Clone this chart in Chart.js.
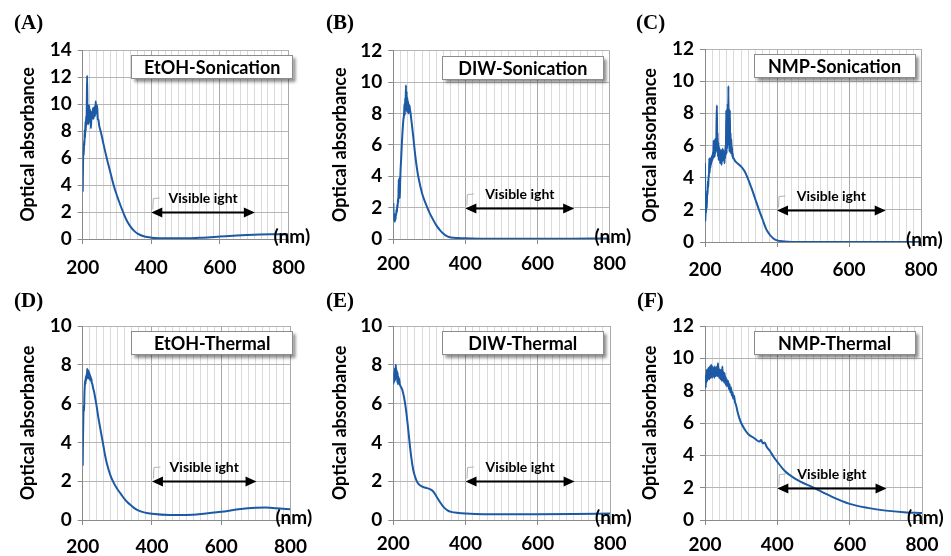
<!DOCTYPE html>
<html>
<head>
<meta charset="utf-8">
<script src="https://cdn.jsdelivr.net/npm/chart.js@4.4.0/dist/chart.umd.min.js"></script>
<style>
  body { margin: 0; background: #fff; }
  #wrap { position: relative; width: 951px; height: 556px; }
  #wrap canvas { position: absolute; }
</style>
</head>
<body>
<div id="wrap">
  <canvas id="cA" width="317" height="278" style="left:0;top:0"></canvas>
  <canvas id="cB" width="317" height="278" style="left:317px;top:0"></canvas>
  <canvas id="cC" width="317" height="278" style="left:634px;top:0"></canvas>
  <canvas id="cD" width="317" height="278" style="left:0;top:278px"></canvas>
  <canvas id="cE" width="317" height="278" style="left:317px;top:278px"></canvas>
  <canvas id="cF" width="317" height="278" style="left:634px;top:278px"></canvas>
</div>
<script>
// ---- data (wavelength nm / optical absorbance) ----
const wlA = [200,201,202,203,204,205,206,207,208,209,
             210,211,212,213,214,215,216,217,218,219,220,
             222,224,226,228,230,232,234,236,238,240,242,244,246,248,250,
             255,260,270,280,290,300,310,320,330,340,350,360,380,400,
             450,500,550,600,650,700,750,800];
const absA = [3.5,5.6,6.8,6.2,7.3,6.9,8.1,7.5,8.7,8.0,
              9.1,8.4,10.2,12.1,8.8,10.0,8.5,9.4,8.6,9.9,8.8,
              9.6,8.2,9.4,8.9,9.7,8.9,9.8,9.1,10.2,9.3,9.9,8.9,8.8,8.4,8.2,
              7.7,7.1,6.0,5.0,4.0,3.2,2.5,1.85,1.3,0.9,0.6,0.4,0.18,0.1,
              0.05,0.05,0.1,0.18,0.26,0.32,0.35,0.34];

const wlB = [200,201,202,203,204,205,206,207,208,209,
             210,211,212,213,214,215,216,217,218,219,220,
             222,224,226,228,230,
             231,232,233,234,235,236,237,238,239,240,241,242,243,244,245,246,
             248,250,255,260,265,270,280,290,300,310,320,330,340,350,360,380,400,
             450,500,600,700,800];
const absB = [2.3,1.5,1.2,1.6,1.1,1.3,1.2,1.6,1.5,1.9,
              1.7,2.2,2.0,2.6,2.3,3.8,2.6,3.9,2.6,3.6,4.3,
              5.2,6.2,7.0,7.6,8.0,
              8.6,7.9,9.0,8.2,9.8,8.4,9.4,8.1,9.0,8.3,8.8,8.0,8.6,8.1,8.5,8.3,
              8.0,7.6,6.6,5.5,4.6,3.9,2.9,2.25,1.7,1.25,0.85,0.55,0.32,0.17,0.1,0.06,0.04,
              0.02,0.01,0.01,0.02,0.03];

const wlC = [200,201,202,203,204,205,206,207,208,209,
             210,211,212,213,214,215,216,217,218,219,
             220,221,222,223,224,225,226,227,228,229,
             230,231,232,233,234,235,236,237,238,239,
             240,241,242,243,244,245,246,247,248,249,
             250,251,252,253,254,255,256,257,258,259,
             260,261,262,263,264,265,266,267,268,269,
             270,271,272,273,274,275,276,277,278,
             280,282,285,290,300,310,320,330,340,350,360,370,380,390,400,
             420,440,500,600,700,800];
const absC = [4.9,1.3,2.2,1.8,2.6,2.1,3.2,2.9,3.8,3.4,
              4.2,4.0,5.2,4.3,5.0,4.6,5.2,4.8,5.3,5.0,
              5.4,5.1,5.6,5.2,6.3,5.4,6.0,5.3,6.4,5.5,
              6.2,5.6,7.4,8.5,6.0,6.8,5.3,6.2,5.1,5.9,
              5.4,5.8,4.9,5.6,5.0,5.7,4.8,5.5,5.0,5.8,
              5.2,5.7,5.1,5.6,4.9,5.5,5.2,6.0,5.4,8.2,
              5.5,7.0,5.8,8.6,6.2,9.7,6.0,7.6,5.6,8.2,
              5.9,6.8,5.5,6.4,5.6,5.9,5.3,5.5,5.2,
              5.2,5.1,5.0,4.9,4.7,4.4,3.9,3.3,2.65,2.0,1.4,0.8,0.45,0.22,0.1,
              0.03,0.0,0.0,0.0,0.0,0.0];

const wlD = [200,201,202,203,204,205,206,207,208,209,
             210,211,212,213,214,215,216,217,218,219,
             220,221,222,223,224,225,226,
             228,230,233,236,240,245,250,255,260,265,270,280,290,300,310,320,330,340,350,360,380,400,
             450,500,550,600,650,700,730,760,800];
const absD = [2.8,4.3,5.4,5.9,5.6,6.5,6.9,7.2,7.0,7.4,
              7.2,7.5,7.3,7.8,7.4,7.6,7.3,7.7,7.3,7.6,
              7.4,7.5,7.2,7.4,7.2,7.3,7.1,
              7.0,6.8,6.6,6.3,5.9,5.3,4.8,4.3,3.8,3.3,2.9,2.3,1.9,1.6,1.35,1.1,0.9,0.75,0.6,0.5,0.38,0.32,
              0.26,0.26,0.32,0.42,0.55,0.63,0.64,0.6,0.55];

const wlE = [200,201,202,203,204,205,206,207,208,209,
             210,211,212,213,214,215,216,
             218,220,225,230,235,240,245,250,255,260,265,270,280,290,300,310,320,330,340,350,360,380,400,
             450,500,600,700,800];
const absE = [7.0,7.6,7.1,7.5,7.8,7.2,7.6,8.0,7.4,7.3,
              7.7,7.1,7.6,7.0,7.4,7.2,7.3,
              7.0,6.9,6.7,6.3,5.7,4.9,4.0,3.2,2.6,2.25,2.0,1.85,1.72,1.66,1.6,1.48,1.2,0.9,0.65,0.5,0.42,0.36,0.33,
              0.3,0.3,0.3,0.31,0.33];

const wlF = [200,201,202,203,204,205,206,207,208,209,
             210,211,212,213,214,215,216,217,218,219,
             220,221,222,223,224,225,226,227,228,229,
             230,231,232,233,234,235,236,237,238,239,
             240,241,242,243,244,245,246,247,248,249,
             250,251,252,253,254,255,256,257,258,259,260,
             262,264,266,268,270,272,274,276,278,280,
             283,286,290,295,300,
             310,320,330,340,345,350,355,360,365,370,380,390,400,
             420,450,500,550,600,650,700,750,800];
const absF = [8.3,8.9,8.2,9.0,8.5,9.3,8.6,9.1,8.7,9.4,
              8.8,9.2,8.7,9.5,8.9,9.3,8.8,9.6,9.0,9.3,
              8.8,9.5,9.0,9.4,8.9,9.2,8.8,9.5,9.0,9.3,
              8.9,9.4,9.0,9.5,8.9,9.2,9.7,9.0,9.4,8.8,
              9.3,8.9,9.2,8.7,9.3,8.8,9.1,8.6,9.5,8.7,
              9.2,8.6,9.0,8.5,9.1,8.6,8.9,8.4,8.8,8.3,8.7,
              8.3,8.6,8.1,8.4,7.9,8.2,7.7,7.9,7.5,7.7,
              7.3,7.1,6.7,6.3,6.0,
              5.6,5.3,5.15,5.0,4.9,4.85,4.95,4.75,4.8,4.55,4.25,3.9,3.6,
              3.05,2.55,2.0,1.45,1.0,0.75,0.58,0.48,0.43];

const panelLetters = ['(A)', '(B)', '(C)', '(D)', '(E)', '(F)'];
const sampleNames = ['EtOH-Sonication', 'DIW-Sonication', 'NMP-Sonication',
                     'EtOH-Thermal', 'DIW-Thermal', 'NMP-Thermal'];
const yMaxes = [14, 12, 12, 10, 10, 12];
const xMin = 200, xMax = 800;
const visibleRange = [400, 702];   // arrow ends (nm)
const arrowLevel = 2;               // absorbance at which the arrow sits

// ---- layout of each small chart inside its 317x278 canvas ----
const W = 317, H = 278;
const panels = [
  { id: 'cA', wl: wlA, abs: absA, left: 82.7, top: 50,   right: 298, bottom: 239, titleX: 28,   letterX: 14, gap: 12 },
  { id: 'cB', wl: wlB, abs: absB, left: 76.3, top: 50.7, right: 293, bottom: 239, titleX: 23.5, letterX: 9,  gap: 8 },
  { id: 'cC', wl: wlC, abs: absC, left: 71,   top: 49,   right: 287, bottom: 242, titleX: 16,   letterX: 2,  gap: 11 },
  { id: 'cD', wl: wlD, abs: absD, left: 82.7, top: 48,   right: 298, bottom: 242, titleX: 28,   letterX: 14, gap: 10 },
  { id: 'cE', wl: wlE, abs: absE, left: 76.3, top: 48,   right: 293, bottom: 242, titleX: 23.5, letterX: 9,  gap: 7 },
  { id: 'cF', wl: wlF, abs: absF, left: 71,   top: 48,   right: 288, bottom: 242, titleX: 16.5, letterX: 3,  gap: 8 }
];

const LINE = '#1c5aa6';
const AXIS = '#8a8a8a';
const tickFont = { family: 'Lato', weight: 'bold', size: 19 };
const titleFont = { family: 'Lato', weight: 'bold', size: 18 };

// texte, caixa do nome e seta "Visible ight"
const overlay = {
  id: 'overlay',
  afterDraw(chart, args, o) {
    const { ctx, chartArea: a, scales: { x, y } } = chart;
    ctx.save();
    ctx.fillStyle = '#000';
    ctx.textBaseline = 'middle';

    // panel letter
    ctx.textAlign = 'left';
    ctx.font = 'bold 21px "Liberation Serif"';
    ctx.fillText(o.letter, o.letterX, 24);

    // sample name box with shadow
    const bx = a.left + 48.5, by = a.top + 5, bw = 162, bh = 24;
    ctx.save();
    ctx.shadowColor = 'rgba(0,0,0,0.45)';
    ctx.shadowBlur = 3;
    ctx.shadowOffsetX = 3;
    ctx.shadowOffsetY = 3;
    ctx.fillStyle = '#fff';
    ctx.fillRect(bx, by, bw, bh);
    ctx.restore();
    ctx.strokeStyle = '#8c8c8c';
    ctx.lineWidth = 1;
    ctx.strokeRect(Math.round(bx) + 0.5, Math.round(by) + 0.5, bw - 1, bh - 1);
    ctx.textAlign = 'center';
    ctx.font = 'bold 18px Lato';
    ctx.fillText(o.label, bx + bw / 2, by + bh / 2 + 1);

    // visible light arrow
    const x0 = x.getPixelForValue(visibleRange[0]);
    const x1 = x.getPixelForValue(visibleRange[1]);
    const ay = Math.round(y.getPixelForValue(arrowLevel)) + 0.5;
    ctx.strokeStyle = '#000';
    ctx.lineWidth = 1.8;
    ctx.beginPath();
    ctx.moveTo(x0 + 8, ay);
    ctx.lineTo(x1 - 8, ay);
    ctx.stroke();
    ctx.beginPath();
    ctx.moveTo(x0, ay); ctx.lineTo(x0 + 11, ay - 5); ctx.lineTo(x0 + 11, ay + 5); ctx.closePath();
    ctx.moveTo(x1, ay); ctx.lineTo(x1 - 11, ay - 5); ctx.lineTo(x1 - 11, ay + 5); ctx.closePath();
    ctx.fill();

    // small grey corner left over from the text box
    ctx.strokeStyle = '#b5b5b5';
    ctx.lineWidth = 1;
    ctx.beginPath();
    ctx.moveTo(x0 + 1.5, ay - 3);
    ctx.lineTo(x0 + 2, ay - 14);
    ctx.lineTo(x0 + 8.5, ay - 14.5);
    ctx.stroke();

    ctx.fillStyle = '#000';
    ctx.font = 'bold 14px Lato';
    ctx.fillText('Visible ight', (x0 + x1) / 2, ay - 14);

    // unit label at the end of the x axis
    ctx.textAlign = 'left';
    ctx.font = 'bold 19px Lato';
    ctx.fillText('(nm)', a.right - 15, a.bottom - 2);
    ctx.restore();
  }
};

panels.forEach((p, i) => {
  const points = p.wl.map((w, k) => ({ x: w, y: p.abs[k] }));
  new Chart(document.getElementById(p.id), {
    type: 'line',
    data: {
      datasets: [{
        data: points,
        borderColor: LINE,
        borderWidth: 2,
        pointRadius: 0,
        cubicInterpolationMode: 'monotone',
        fill: false
      }]
    },
    options: {
      responsive: false,
      animation: false,
      layout: { padding: { left: 0, top: p.top, right: W - p.right, bottom: 0 } },
      plugins: {
        legend: { display: false },
        tooltip: { enabled: false },
        overlay: { letter: panelLetters[i], label: sampleNames[i], letterX: p.letterX }
      },
      scales: {
        x: {
          type: 'linear',
          min: xMin,
          max: xMax,
          afterFit: s => { s.height = H - p.bottom; },
          ticks: {
            stepSize: 20,
            autoSkip: false,
            maxRotation: 0,
            maxTicksLimit: 100,
            padding: p.gap,
            color: '#000',
            font: tickFont,
            callback: v => (Math.round(v) % 200 === 0 ? Math.round(v) : '')
          },
          grid: {
            color: c => (c.tick && Math.round(c.tick.value) % 200 === 0 ? '#a9a9a9' : '#dadada'),
            tickColor: c => (c.tick && Math.round(c.tick.value) % 200 === 0 ? AXIS : 'rgba(0,0,0,0)'),
            tickLength: 5
          },
          border: { color: AXIS }
        },
        y: {
          min: 0,
          max: yMaxes[i],
          afterFit: s => { s.width = p.left; },
          ticks: { stepSize: 2, padding: 6, color: '#000', font: tickFont },
          grid: { color: '#b4b4b4', tickColor: AXIS, tickLength: 5 },
          border: { color: AXIS },
          title: {
            display: true,
            text: 'Optical absorbance',
            color: '#000',
            font: titleFont,
            padding: { top: p.titleX - 10.8, bottom: 0 }
          }
        }
      }
    },
    plugins: [overlay]
  });
});
</script>
</body>
</html>
